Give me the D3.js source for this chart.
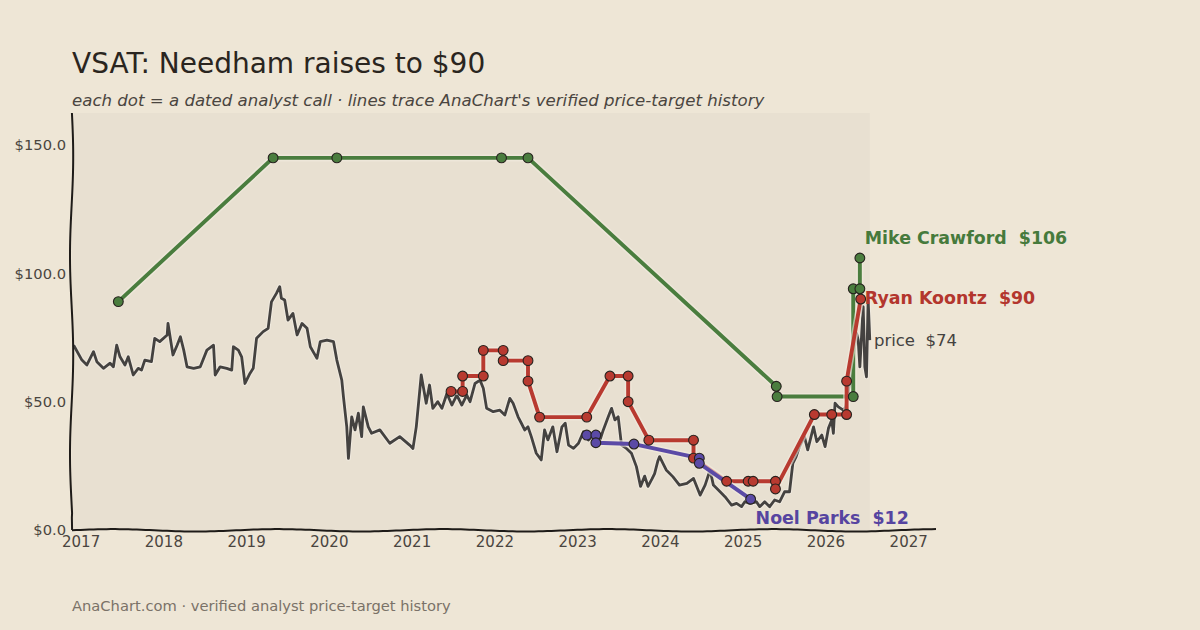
<!DOCTYPE html>
<html>
<head>
<meta charset="utf-8">
<script src="https://cdn.jsdelivr.net/npm/d3@7"></script>
<style>
  body { margin: 0; background: #eee6d6; }
  svg { display: block; }
</style>
</head>
<body>
<svg width="1200" height="630"></svg>
<script>
// price history (decimal year, close)
const priceYears = [2016.91, 2017.01, 2017.07, 2017.15, 2017.19, 2017.27, 2017.35, 2017.39, 2017.43, 2017.47,
  2017.53, 2017.57, 2017.63, 2017.69, 2017.73, 2017.77, 2017.85, 2017.89, 2017.95, 2018.04,
  2018.05, 2018.11, 2018.16, 2018.20, 2018.24, 2018.28, 2018.36, 2018.44, 2018.52, 2018.60,
  2018.62, 2018.68, 2018.76, 2018.82, 2018.84, 2018.90, 2018.94, 2018.98, 2019.04, 2019.08,
  2019.12, 2019.20, 2019.26, 2019.30, 2019.36, 2019.40, 2019.42, 2019.46, 2019.50, 2019.56,
  2019.61, 2019.67, 2019.73, 2019.77, 2019.85, 2019.89, 2019.97, 2020.05, 2020.09, 2020.15,
  2020.17, 2020.21, 2020.23, 2020.27, 2020.31, 2020.35, 2020.39, 2020.41, 2020.47, 2020.51,
  2020.61, 2020.73, 2020.85, 2020.97, 2021.01, 2021.05, 2021.11, 2021.17, 2021.21, 2021.25,
  2021.31, 2021.36, 2021.42, 2021.48, 2021.54, 2021.60, 2021.66, 2021.70, 2021.76, 2021.82,
  2021.86, 2021.90, 2021.98, 2022.06, 2022.12, 2022.18, 2022.22, 2022.28, 2022.32, 2022.36,
  2022.40, 2022.44, 2022.50, 2022.56, 2022.60, 2022.64, 2022.70, 2022.75, 2022.81, 2022.85,
  2022.89, 2022.95, 2023.01, 2023.07, 2023.13, 2023.19, 2023.25, 2023.31, 2023.37, 2023.41,
  2023.45, 2023.49, 2023.53, 2023.59, 2023.65, 2023.71, 2023.76, 2023.81, 2023.85, 2023.90,
  2023.93, 2023.97, 2023.99, 2024.07, 2024.15, 2024.23, 2024.32, 2024.40, 2024.48, 2024.54,
  2024.60, 2024.64, 2024.70, 2024.78, 2024.86, 2024.92, 2024.98, 2025.02, 2025.08, 2025.16,
  2025.20, 2025.26, 2025.32, 2025.38, 2025.44, 2025.50, 2025.56, 2025.60, 2025.64, 2025.68,
  2025.74, 2025.78, 2025.85, 2025.89, 2025.95, 2025.99, 2026.03, 2026.07, 2026.09, 2026.11,
  2026.15, 2026.21, 2026.24, 2026.29, 2026.32, 2026.37, 2026.39, 2026.41, 2026.43, 2026.45,
  2026.47, 2026.49, 2026.51, 2026.53];
const priceValues = [72, 66.2, 64.3, 69.5, 65.6, 63, 65, 63.6, 72, 67.5,
  64.3, 67.5, 60.4, 63, 62.3, 66.2, 65.6, 74.7, 73.4, 76,
  80.5, 68.2, 72, 75.3, 70.1, 63.6, 63, 63.6, 70.1, 72,
  60.4, 63.6, 63, 62.3, 71.4, 70.1, 67.5, 57.1, 61, 63,
  74.7, 77.3, 78.6, 88.9, 92.2, 94.8, 90.3, 89.6, 81.8, 84.4,
  76, 80.5, 78.6, 71.4, 66.9, 73.4, 74, 73.4, 66.2, 58.4,
  51.9, 40.2, 27.9, 44.1, 39, 45.5, 36.4, 48, 40.2, 37.7,
  39, 33.8, 36.4, 33.1, 31.8, 40.2, 60.4, 49.4, 56.5, 47.4,
  50, 47.4, 53.2, 48.7, 52.6, 48.7, 52.6, 50, 57.1, 58.4,
  55.2, 47.4, 46.1, 46.7, 44.8, 51.3, 49.4, 44.1, 41.6, 39,
  40.2, 36.4, 29.9, 27.3, 39, 35.1, 40.2, 30.5, 40.2, 41.6,
  33.1, 31.8, 33.8, 38.3, 35.1, 37, 33.1, 39, 44.1, 47.4,
  42.9, 44.1, 33.1, 31.8, 29.9, 24.7, 17, 21, 17, 20,
  22, 27, 28.6, 23.4, 20.8, 17.5, 18.2, 20.1, 13.6, 17.5,
  23.4, 17.5, 15.6, 13, 9.7, 10.4, 9.1, 11, 10.4, 11,
  9.1, 11, 9.1, 11.7, 11, 14.9, 14.9, 26, 28.6, 32.5,
  36.4, 31.2, 40.2, 34.4, 37, 32.5, 39.6, 42.9, 37.7, 49.4,
  48, 46.7, 48, 58, 66, 76.6, 74, 63.6, 75.3, 87,
  63.6, 59.7, 89.6, 74];

// analyst price-target histories
const crawfordYears = [2017.45, 2019.32, 2020.09, 2022.08, 2022.40, 2025.40, 2025.41, 2026.33, 2026.33, 2026.41, 2026.41];
const crawfordTargets = [89, 145, 145, 145, 145, 56, 52, 52, 94, 94, 106];

const koontzYears = [2021.47, 2021.61, 2021.61, 2021.86, 2021.86, 2022.10, 2022.10, 2022.40, 2022.40, 2022.54,
  2023.11, 2023.39, 2023.61, 2023.61, 2023.86, 2024.40, 2024.40, 2024.80, 2025.06, 2025.12,
  2025.39, 2025.39, 2025.86, 2026.07, 2026.25, 2026.25, 2026.42];
const koontzTargets = [54, 54, 60, 60, 70, 70, 66, 66, 58, 44,
  44, 60, 60, 50, 35, 35, 28, 19, 19, 19,
  19, 16, 45, 45, 45, 58, 90];

const parksYears = [2023.11, 2023.22, 2023.22, 2023.68, 2024.47, 2024.47, 2025.09];
const parksTargets = [37, 37, 34, 33.5, 28, 26, 12];

const yTicks = [0, 50, 100, 150];
const xTicks = [2017, 2018, 2019, 2020, 2021, 2022, 2023, 2024, 2025, 2026, 2027];

const analysts = [
  { name: "Mike Crawford", years: crawfordYears, targets: crawfordTargets, color: "#4a7d3e", text: "#467a3c" },
  { name: "Ryan Koontz", years: koontzYears, targets: koontzTargets, color: "#b83a30", text: "#b3362d" },
  { name: "Noel Parks", years: parksYears, targets: parksTargets, color: "#5b4aa6", text: "#5644a0" },
];

// label placement (year, value) in data units
const labelPos = {
  "Mike Crawford": [2026.47, 114],
  "Ryan Koontz": [2026.47, 90.4],
  "Noel Parks": [2025.15, 4.7],
};

const svg = d3.select("svg");
const W = 1200, H = 630;
const bg = "#eee6d6";
const font = "'DejaVu Sans'";
svg.append("rect").attr("width", W).attr("height", H).attr("fill", bg);

const x = d3.scaleLinear().domain([2016.89, 2027.33]).range([72, 936]);
const y = d3.scaleLinear().domain([0, 162.5]).range([530, 113]);

// plotted area
svg.append("rect")
  .attr("x", x(2016.89)).attr("y", y(162.5))
  .attr("width", x(d3.max(priceYears)) - x(2016.89))
  .attr("height", y(0) - y(162.5))
  .attr("fill", "#e8e0d1");

// title block
svg.append("text").attr("x", 72).attr("y", 73)
  .attr("font-family", font)
  .attr("font-size", 28).attr("fill", "#2a2520")
  .text("VSAT: Needham raises to $90");
svg.append("text").attr("x", 72).attr("y", 106)
  .attr("font-family", font)
  .attr("font-style", "italic")
  .attr("font-size", 16.6).attr("fill", "#4a4540")
  .text("each dot = a dated analyst call \u00b7 lines trace AnaChart's verified price-target history");

svg.append("text").attr("x", 72).attr("y", 611)
  .attr("font-family", font)
  .attr("font-size", 14.7).attr("fill", "#7a7268")
  .text("AnaChart.com \u00b7 verified analyst price-target history");

// tick labels
svg.append("g").selectAll("text").data(yTicks).join("text")
  .attr("x", 66).attr("y", (d) => y(d)).attr("dy", "0.35em")
  .attr("text-anchor", "end")
  .attr("font-family", font).attr("font-size", 14.7)
  .attr("fill", "#4a4540")
  .text((d) => "$" + d3.format(".1f")(d));

svg.append("g").selectAll("text").data(xTicks).join("text")
  .attr("x", (d) => x(d)).attr("y", 547)
  .attr("text-anchor", "middle")
  .attr("font-family", font)
  .attr("font-size", 15).attr("fill", "#4a4540")
  .text((d) => d);

// price line
const priceData = priceYears.map((yr, i) => [yr, priceValues[i]]);
const line = d3.line().x((d) => x(d[0])).y((d) => y(d[1]));
svg.append("path").datum(priceData)
  .attr("d", line).attr("fill", "none")
  .attr("stroke", "#f4efe6").attr("stroke-opacity", 0.6).attr("stroke-width", 5)
  .attr("stroke-linejoin", "round");
svg.append("path").datum(priceData)
  .attr("d", line).attr("fill", "none")
  .attr("stroke", "#444240").attr("stroke-width", 2.8)
  .attr("stroke-linejoin", "round");

// analyst lines and dots
analysts.forEach((a) => {
  const pts = a.years.map((yr, i) => [yr, a.targets[i]]);
  svg.append("path").datum(pts)
    .attr("d", line).attr("fill", "none")
    .attr("stroke", "#f1ebe0").attr("stroke-opacity", 0.6).attr("stroke-width", 7)
    .attr("stroke-linejoin", "round");
  svg.append("path").datum(pts)
    .attr("d", line).attr("fill", "none")
    .attr("stroke", a.color).attr("stroke-width", 3.9)
    .attr("stroke-linejoin", "round");
});
analysts.forEach((a) => {
  const pts = a.years.map((yr, i) => [yr, a.targets[i]]);
  svg.append("g").selectAll("circle").data(pts).join("circle")
    .attr("cx", (d) => x(d[0])).attr("cy", (d) => y(d[1]))
    .attr("r", 4.9)
    .attr("fill", a.color)
    .attr("stroke", "#26221e").attr("stroke-width", 1.1);
});

// end labels
analysts.forEach((a) => {
  const last = a.targets[a.targets.length - 1];
  const p = labelPos[a.name];
  svg.append("text")
    .attr("x", x(p[0])).attr("y", y(p[1])).attr("dy", "0.35em")
    .attr("font-family", font).attr("font-weight", "bold")
    .attr("font-size", 17.4).attr("fill", a.text)
    .text(a.name + "\u00a0\u00a0$" + last);
});
svg.append("text")
  .attr("x", x(2026.58)).attr("y", y(priceValues[priceValues.length - 1])).attr("dy", "0.35em")
  .attr("font-family", font)
  .attr("font-size", 16.5).attr("fill", "#444240")
  .text("price\u00a0\u00a0$" + priceValues[priceValues.length - 1]);

// hand-drawn spines
const left = d3.range(0, 1.0001, 0.01).map((t) => {
  const yy = y(162.5) + t * (y(0) - y(162.5));
  return [71.6 + 1.6 * Math.sin(t * Math.PI * 4.2 + 0.2) * (t < 0.97 ? 1 : 0.4), yy];
});
svg.append("path").attr("d", d3.line()(left))
  .attr("fill", "none").attr("stroke", "#1e1b18").attr("stroke-width", 2);
const bottom = d3.range(0, 1.0001, 0.005).map((t) => {
  const xx = 72 + t * (936 - 72);
  return [xx, 530.3 - 1.2 * Math.sin(((xx - 72) / 165) * Math.PI * 2)];
});
svg.append("path").attr("d", d3.line()(bottom))
  .attr("fill", "none").attr("stroke", "#1e1b18").attr("stroke-width", 2);
</script>
</body>
</html>
